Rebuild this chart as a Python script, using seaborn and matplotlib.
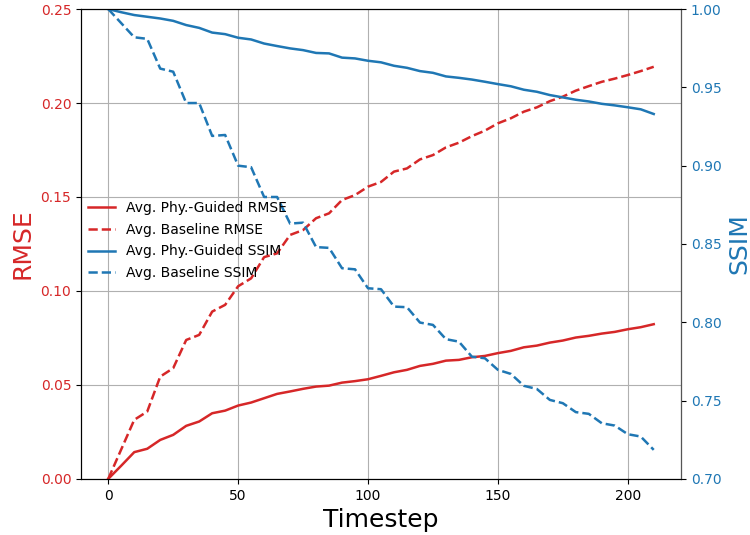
import numpy as np
import pandas as pd
import matplotlib
matplotlib.use("Agg")
import matplotlib.pyplot as plt
import seaborn as sns

timesteps = list(range(0, 211, 5))

phy_rmse = [0.0, 0.007, 0.0142, 0.016, 0.0207, 0.0234, 0.0282, 0.0305, 0.0349, 0.0363,
            0.039, 0.0406, 0.0429, 0.0452, 0.0465, 0.0479, 0.0491, 0.0496, 0.0512, 0.052,
            0.053, 0.0548, 0.0567, 0.058, 0.0601, 0.0612, 0.0629, 0.0633, 0.0647, 0.0654,
            0.0669, 0.0681, 0.070, 0.0709, 0.0725, 0.0736, 0.0752, 0.0761, 0.0773, 0.0782,
            0.0796, 0.0807, 0.0823]

base_rmse = [0.0, 0.0157, 0.0314, 0.0358, 0.0544, 0.0589, 0.0739, 0.0766, 0.089, 0.0926,
             0.1025, 0.1067, 0.118, 0.120, 0.1298, 0.1324, 0.1387, 0.1413, 0.1484, 0.151,
             0.1555, 0.158, 0.1635, 0.1652, 0.170, 0.1723, 0.1764, 0.1789, 0.1824, 0.1853,
             0.1892, 0.1919, 0.1954, 0.1977, 0.201, 0.2034, 0.2066, 0.209, 0.2113, 0.213,
             0.2149, 0.217, 0.2193]

phy_ssim = [1.0, 0.998, 0.9962, 0.9951, 0.994, 0.9925, 0.9898, 0.988, 0.985, 0.984,
            0.9817, 0.9806, 0.978, 0.9764, 0.9749, 0.9738, 0.972, 0.9717, 0.969, 0.9685,
            0.967, 0.966, 0.9638, 0.9625, 0.9604, 0.9593, 0.957, 0.9561, 0.955, 0.9536,
            0.9521, 0.9507, 0.9485, 0.9472, 0.9451, 0.9436, 0.9421, 0.941, 0.9395, 0.9385,
            0.9373, 0.936, 0.933]

base_ssim = [1.0, 0.991, 0.982, 0.981, 0.962, 0.960, 0.940, 0.940, 0.919, 0.9196,
             0.900, 0.899, 0.880, 0.880, 0.863, 0.8636, 0.848, 0.8475, 0.8345, 0.8338,
             0.8217, 0.8211, 0.810, 0.8096, 0.7998, 0.7983, 0.7892, 0.7876, 0.778, 0.777,
             0.7696, 0.767, 0.7594, 0.7574, 0.7504, 0.7483, 0.7426, 0.7415, 0.7355, 0.734,
             0.7285, 0.727, 0.7185]

labels = ["Avg. Phy.-Guided RMSE", "Avg. Baseline RMSE",
          "Avg. Phy.-Guided SSIM", "Avg. Baseline SSIM"]

red = "#d62728"
blue = "#1f77b4"

df = pd.DataFrame({"t": timesteps, "phy_rmse": phy_rmse, "base_rmse": base_rmse,
                   "phy_ssim": phy_ssim, "base_ssim": base_ssim})

fig = plt.figure(figsize=(7.5, 5.35), dpi=100)
ax = fig.add_axes([0.108, 0.105, 0.8, 0.878])
ax2 = ax.twinx()

lw = 1.8
sns.lineplot(data=df, x="t", y="phy_rmse", ax=ax, color=red, lw=lw, label=labels[0], legend=False)
sns.lineplot(data=df, x="t", y="base_rmse", ax=ax, color=red, lw=lw, ls="--", label=labels[1], legend=False)
sns.lineplot(data=df, x="t", y="phy_ssim", ax=ax2, color=blue, lw=lw, label=labels[2], legend=False)
sns.lineplot(data=df, x="t", y="base_ssim", ax=ax2, color=blue, lw=lw, ls="--", label=labels[3], legend=False)

ax.set_ylim(0, 0.25)
ax2.set_ylim(0.70, 1.00)
ax.set_yticks([0, 0.05, 0.10, 0.15, 0.20, 0.25])
ax2.set_yticks([0.70, 0.75, 0.80, 0.85, 0.90, 0.95, 1.00])
ax.set_xticks([0, 50, 100, 150, 200])
ax.grid(True)
ax2.spines["right"].set_color("#555555")

ax.set_xlabel("Timestep", fontsize=18)
ax.set_ylabel("RMSE", fontsize=18, color=red)
ax2.set_ylabel("SSIM", fontsize=18, color=blue)
ax.tick_params(axis="y", labelcolor=red, labelsize=10)
ax2.tick_params(axis="y", labelcolor=blue, labelsize=10)
ax.tick_params(axis="x", labelsize=10)

h1, l1 = ax.get_legend_handles_labels()
h2, l2 = ax2.get_legend_handles_labels()
ax2.legend(h1 + h2, l1 + l2, loc="center left", bbox_to_anchor=(-0.01, 0.507),
           frameon=False, fontsize=10, labelspacing=0.55)

fig.savefig("out.png", dpi=100)
